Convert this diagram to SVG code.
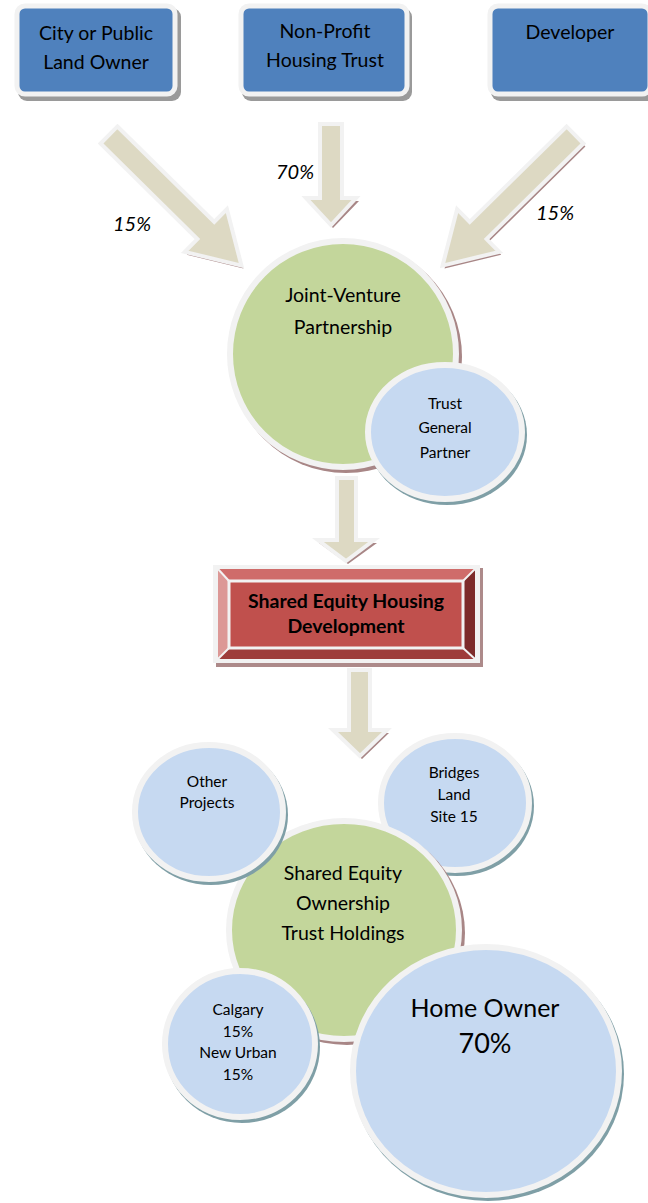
<svg xmlns="http://www.w3.org/2000/svg" width="648" height="1203" viewBox="0 0 648 1203">
<style>
  .t{font-family:Lato,"Liberation Sans",sans-serif;fill:#000;text-anchor:middle}
  .box{fill:#4f81bd;stroke:#f2f2f2;stroke-width:5}
  .boxsh{fill:#9a9a9a}
  .arr{fill:#ddd9c3;stroke:#f2f2f2;stroke-width:4;stroke-linejoin:miter}
  .arrsh{fill:#a88686}
  .green{fill:#c3d69b;stroke:#f2f2f2;stroke-width:6}
  .blue{fill:#c6d9f1;stroke:#f2f2f2;stroke-width:6}
  .gsh{fill:#a88686}
  .bsh{fill:#7f9fa6}
  .pct{font-family:Lato,"Liberation Sans",sans-serif;font-style:italic;font-size:20px;fill:#000;text-anchor:middle}
</style>
<defs>
  <polygon id="diagArrow" points="0,-12 136,-12 136,-30 186,0 136,30 136,12 0,12"/>
</defs>
<rect width="648" height="1203" fill="#ffffff"/>

<g id="connectors">
  <g id="arrow-left">
    <use href="#diagArrow" class="arrsh" transform="translate(111,138) rotate(44.6)"/>
    <use href="#diagArrow" class="arr" transform="translate(109,135) rotate(44.6)"/>
  </g>
  <g id="arrow-mid">
    <polygon class="arrsh" points="322,127 344,127 344,201 359,201 333,228 307,201 322,201"/>
    <polygon class="arr" points="320,124 342,124 342,198 356,198 331,225 306,198 320,198"/>
  </g>
  <g id="arrow-right">
    <use href="#diagArrow" class="arrsh" transform="translate(577,138) rotate(135.4)"/>
    <use href="#diagArrow" class="arr" transform="translate(575,135) rotate(135.4)"/>
  </g>
  <g id="arrow-jv">
    <polygon class="arrsh" points="339,481 358,481 358,543 377,543 348,564 319,543 339,543"/>
    <polygon class="arr" points="337,478 356,478 356,540 374,540 346,561 318,540 337,540"/>
  </g>
  <g id="arrow-dev">
    <polygon class="arrsh" points="351,673 372,673 372,733 389,733 362,759 335,733 351,733"/>
    <polygon class="arr" points="349,670 370,670 370,730 387,730 360,756 333,730 349,730"/>
  </g>
  <text class="pct" x="132" y="231">15%</text>
  <text class="pct" x="295" y="179">70%</text>
  <text class="pct" x="555" y="220">15%</text>
</g>

<g id="node-city">
  <rect class="boxsh" x="18" y="8" width="163" height="93" rx="9"/>
  <rect class="box" x="17" y="6" width="158" height="88" rx="8"/>
  <text class="t" x="96" y="40" font-size="19.5">City or Public</text>
  <text class="t" x="96" y="69" font-size="19.5">Land Owner</text>
</g>
<g id="node-trust">
  <rect class="boxsh" x="242" y="8" width="170" height="93" rx="9"/>
  <rect class="box" x="241" y="6" width="166" height="88" rx="8"/>
  <text class="t" x="325" y="38" font-size="19.5">Non-Profit</text>
  <text class="t" x="325" y="67" font-size="19.5">Housing Trust</text>
</g>
<g id="node-developer">
  <rect class="boxsh" x="491" y="8" width="165" height="93" rx="9"/>
  <rect class="box" x="490" y="6" width="160" height="88" rx="8"/>
  <text class="t" x="570" y="39" font-size="19.5">Developer</text>
</g>

<g id="node-jv">
  <circle class="gsh" cx="346" cy="357" r="116"/>
  <circle class="green" cx="343" cy="354" r="113"/>
  <text class="t" x="343" y="302" font-size="19.5">Joint-Venture</text>
  <text class="t" x="343" y="334" font-size="19.5">Partnership</text>
</g>
<g id="node-gp">
  <ellipse class="bsh" cx="447" cy="435" rx="80" ry="70"/>
  <ellipse class="blue" cx="445" cy="432" rx="77" ry="67"/>
  <text class="t" x="445" y="409" font-size="15.5">Trust</text>
  <text class="t" x="445" y="433" font-size="15.5">General</text>
  <text class="t" x="445" y="458" font-size="15.5">Partner</text>
</g>

<g id="node-development">
  <rect x="216" y="568" width="267" height="99" fill="#ad8a8a"/>
  <rect x="213" y="565" width="267" height="98" fill="#f2f2f2"/>
  <polygon points="218,569 475,569 463,581 229,581" fill="#cf6c6a"/>
  <polygon points="218,569 229,581 229,648 218,659" fill="#dc9896"/>
  <polygon points="475,569 475,659 463,648 463,581" fill="#7d2b2a"/>
  <polygon points="218,659 475,659 463,648 229,648" fill="#9e3c3a"/>
  <rect x="229" y="581" width="234" height="67" fill="#c0504d" stroke="#f2f2f2" stroke-width="3"/>
  <g stroke="#f2f2f2" stroke-width="2">
    <line x1="218" y1="569" x2="229" y2="581"/>
    <line x1="475" y1="569" x2="463" y2="581"/>
    <line x1="218" y1="659" x2="229" y2="648"/>
    <line x1="475" y1="659" x2="463" y2="648"/>
  </g>
  <text class="t" x="346" y="608" font-size="19.5" font-weight="bold">Shared Equity Housing</text>
  <text class="t" x="346" y="633" font-size="19.5" font-weight="bold">Development</text>
</g>

<g id="node-bridges">
  <ellipse class="bsh" cx="457" cy="806" rx="77" ry="70"/>
  <ellipse class="blue" cx="455" cy="803" rx="74" ry="67"/>
  <text class="t" x="454" y="778" font-size="15.5">Bridges</text>
  <text class="t" x="454" y="800" font-size="15.5">Land</text>
  <text class="t" x="454" y="822" font-size="15.5">Site 15</text>
</g>
<g id="node-holdings">
  <ellipse class="gsh" cx="347" cy="933" rx="118" ry="112"/>
  <ellipse class="green" cx="344" cy="930" rx="115" ry="109"/>
  <text class="t" x="343" y="880" font-size="19.5">Shared Equity</text>
  <text class="t" x="343" y="910" font-size="19.5">Ownership</text>
  <text class="t" x="343" y="940" font-size="19.5">Trust Holdings</text>
</g>
<g id="node-other">
  <ellipse class="bsh" cx="211" cy="815" rx="77" ry="70"/>
  <ellipse class="blue" cx="209" cy="812" rx="74" ry="67"/>
  <text class="t" x="207" y="787" font-size="15.5">Other</text>
  <text class="t" x="207" y="808" font-size="15.5">Projects</text>
</g>
<g id="node-calgary">
  <ellipse class="bsh" cx="242" cy="1047" rx="78" ry="76"/>
  <ellipse class="blue" cx="240" cy="1044" rx="75" ry="73"/>
  <text class="t" x="238" y="1015" font-size="15.5">Calgary</text>
  <text class="t" x="238" y="1037" font-size="15.5">15%</text>
  <text class="t" x="238" y="1058" font-size="15.5">New Urban</text>
  <text class="t" x="238" y="1080" font-size="15.5">15%</text>
</g>
<g id="node-homeowner">
  <ellipse class="bsh" cx="488" cy="1074" rx="136" ry="127"/>
  <ellipse class="blue" cx="486" cy="1071" rx="133" ry="124"/>
  <text class="t" x="485" y="1017" font-size="25">Home Owner</text>
  <text class="t" x="485" y="1053" font-size="27">70%</text>
</g>
</svg>
